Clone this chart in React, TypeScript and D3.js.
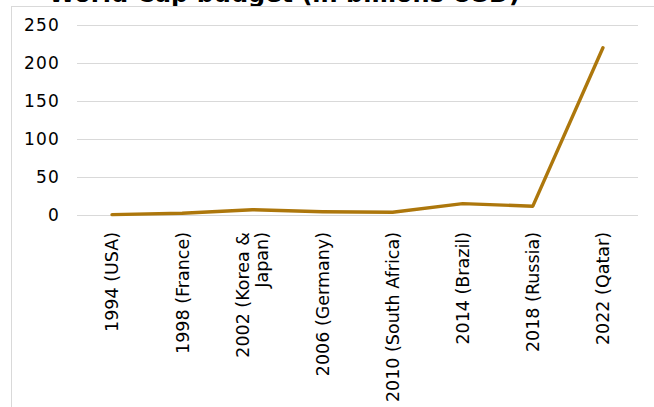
import React from "react";
import * as d3 from "d3";

const categories = [
  "1994 (USA)",
  "1998 (France)",
  "2002 (Korea & Japan)",
  "2006 (Germany)",
  "2010 (South Africa)",
  "2014 (Brazil)",
  "2018 (Russia)",
  "2022 (Qatar)",
];
const budget = [0.5, 2.3, 7, 4.3, 3.6, 15, 11.6, 220];
const yTicks = [0, 50, 100, 150, 200, 250];
const title = "World Cup budget (in billions USD)";

const W = 654;
const H = 407;
const FONT = "'DejaVu Sans', sans-serif";

export default function App() {
  const x = d3.scaleBand<string>().domain(categories).range([77, 638]);
  const y = d3.scaleLinear().domain([0, 250]).range([215, 25]);
  const line = d3
    .line<number>()
    .x((_, i) => (x(categories[i]) as number) + x.bandwidth() / 2)
    .y((d) => y(d));

  const splitLabel = (s: string) => {
    const idx = s.indexOf("& ");
    return idx >= 0 ? [s.slice(0, idx + 1), s.slice(idx + 2)] : [s];
  };

  return (
    <svg
      width={W}
      height={H}
      style={{ position: "absolute", left: 0, top: 0, background: "#fff" }}
    >
      <text
        x={520}
        y={1.5}
        textAnchor="end"
        fontFamily={FONT}
        fontWeight="bold"
        fontSize={24}
        fill="#000"
      >
        {title}
      </text>
      <rect x={11.5} y={6.5} width={700} height={500} fill="#fff" stroke="#d9d9d9" strokeWidth={1} />
      {yTicks.map((t) => (
        <g key={t}>
          <line x1={77} x2={638} y1={Math.round(y(t)) + 0.5} y2={Math.round(y(t)) + 0.5} stroke="#d9d9d9" strokeWidth={1} />
          <text
            x={60}
            y={y(t)}
            dy="0.36em"
            textAnchor="end"
            fontFamily={FONT}
            fontSize={17}
            letterSpacing={1.2}
            fill="#000"
          >
            {t}
          </text>
        </g>
      ))}
      {categories.map((c) => {
        const cx = (x(c) as number) + x.bandwidth() / 2;
        const lines = splitLabel(c);
        const lh = 19;
        return (
          <text
            key={c}
            transform={`translate(${cx},232) rotate(-90)`}
            textAnchor="end"
            fontFamily={FONT}
            fontSize={17.5}
            fill="#000"
          >
            {lines.map((l, i) => (
              <tspan key={i} x={0} y={(i - (lines.length - 1) / 2) * lh} dy="0.36em">
                {l}
              </tspan>
            ))}
          </text>
        );
      })}
      <path
        d={line(budget) || ""}
        fill="none"
        stroke="#ad770c"
        strokeWidth={3.4}
        strokeLinejoin="round"
        strokeLinecap="round"
      />
    </svg>
  );
}
